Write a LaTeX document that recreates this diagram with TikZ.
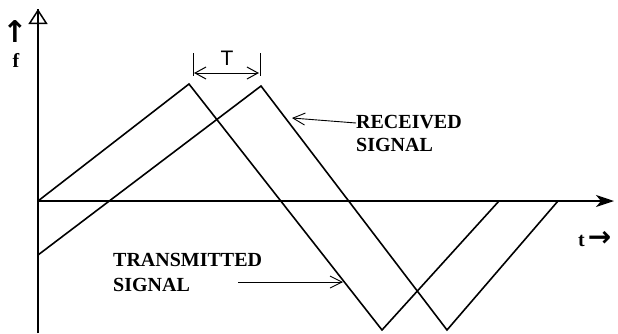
\documentclass[tikz,border=0pt]{standalone}
\usepackage{fontspec}
\setmainfont{Liberation Serif}
\newfontfamily\labelsans{Liberation Sans}
\newfontfamily\arrowfont{DejaVu Sans}
\usetikzlibrary{arrows.meta}
\begin{document}
\begin{tikzpicture}[x=1pt,y=-1pt,
  axis/.style={line width=2pt},
  sig/.style={line width=1.6pt, line join=miter},
  thin/.style={line width=1pt},
  callout/.style={line width=0.9pt,-{Straight Barb[length=12pt,width=12pt,line width=0.9pt]}},
  lbl/.style={inner sep=0pt, align=left, anchor=north west}]
\useasboundingbox (0,0) rectangle (618,333);

% axes
\coordinate (O) at (38,201);
\coordinate (ytop) at (38,9);
\coordinate (ybot) at (38,333);
\coordinate (xend) at (614,201);
\draw[axis] (ybot) -- (ytop);
\draw[axis,-{Triangle[open,length=15pt,width=19pt,line width=1.5pt]}] (ybot) -- (ytop);
\draw[axis,-{Stealth[length=18pt,width=12pt,inset=5pt]}] (O) -- (xend);

% transmitted sweep
\coordinate (t0) at (38,201);
\coordinate (t1) at (189,84);
\coordinate (t2) at (382,330);
\coordinate (t3) at (499,201);
\draw[sig] (t0) -- (t1) -- (t2) -- (t3);

% received sweep (delayed copy)
\coordinate (r0) at (38,255);
\coordinate (r1) at (261,86);
\coordinate (r2) at (447,330);
\coordinate (r3) at (558,201);
\draw[sig] (r0) -- (r1) -- (r2) -- (r3);

% delay marker
\coordinate (dlt) at (193,53);
\coordinate (dlb) at (193,76);
\coordinate (drt) at (260,53);
\coordinate (drb) at (260,76);
\coordinate (dl) at (194,73);
\coordinate (dr) at (259,73);
\draw[thin] (dlt) -- (dlb);
\draw[thin] (drt) -- (drb);
\draw[thin,{Straight Barb[length=11pt,width=12pt,line width=1pt]}-{Straight Barb[length=11pt,width=12pt,line width=1pt]}] (dl) -- (dr);
\node[inner sep=0pt,font=\labelsans\fontsize{21}{21}\selectfont] (delay) at (227,58) {T};

% axis labels
\node[inner sep=0pt,anchor=center,font=\arrowfont\bfseries\fontsize{30}{30}\selectfont] (farrow) at (15,32) {↑};
\node[inner sep=0pt,anchor=base,font=\fontsize{20}{20}\selectfont\bfseries] (flabel) at (16,67) {f};
\node[inner sep=0pt,anchor=base west,font=\fontsize{20}{20}\selectfont\bfseries] (tlabel) at (578,246)
  {t\hspace{3pt}{\arrowfont\fontsize{28}{28}\selectfont →}};

% signal labels with callouts
\node[lbl,font=\fontsize{20}{23}\selectfont\bfseries] (recv) at (356,115) {RECEIVED\\SIGNAL};
\coordinate (recvtail) at (356,123);
\coordinate (recvtip) at (292,118);
\draw[callout] (recvtail) -- (recvtip);

\node[lbl,font=\fontsize{20}{25}\selectfont\bfseries] (trans) at (113,253) {TRANSMITTED\\SIGNAL};
\coordinate (transtail) at (238,282);
\coordinate (transtip) at (343,282);
\draw[callout] (transtail) -- (transtip);
\end{tikzpicture}
\end{document}
